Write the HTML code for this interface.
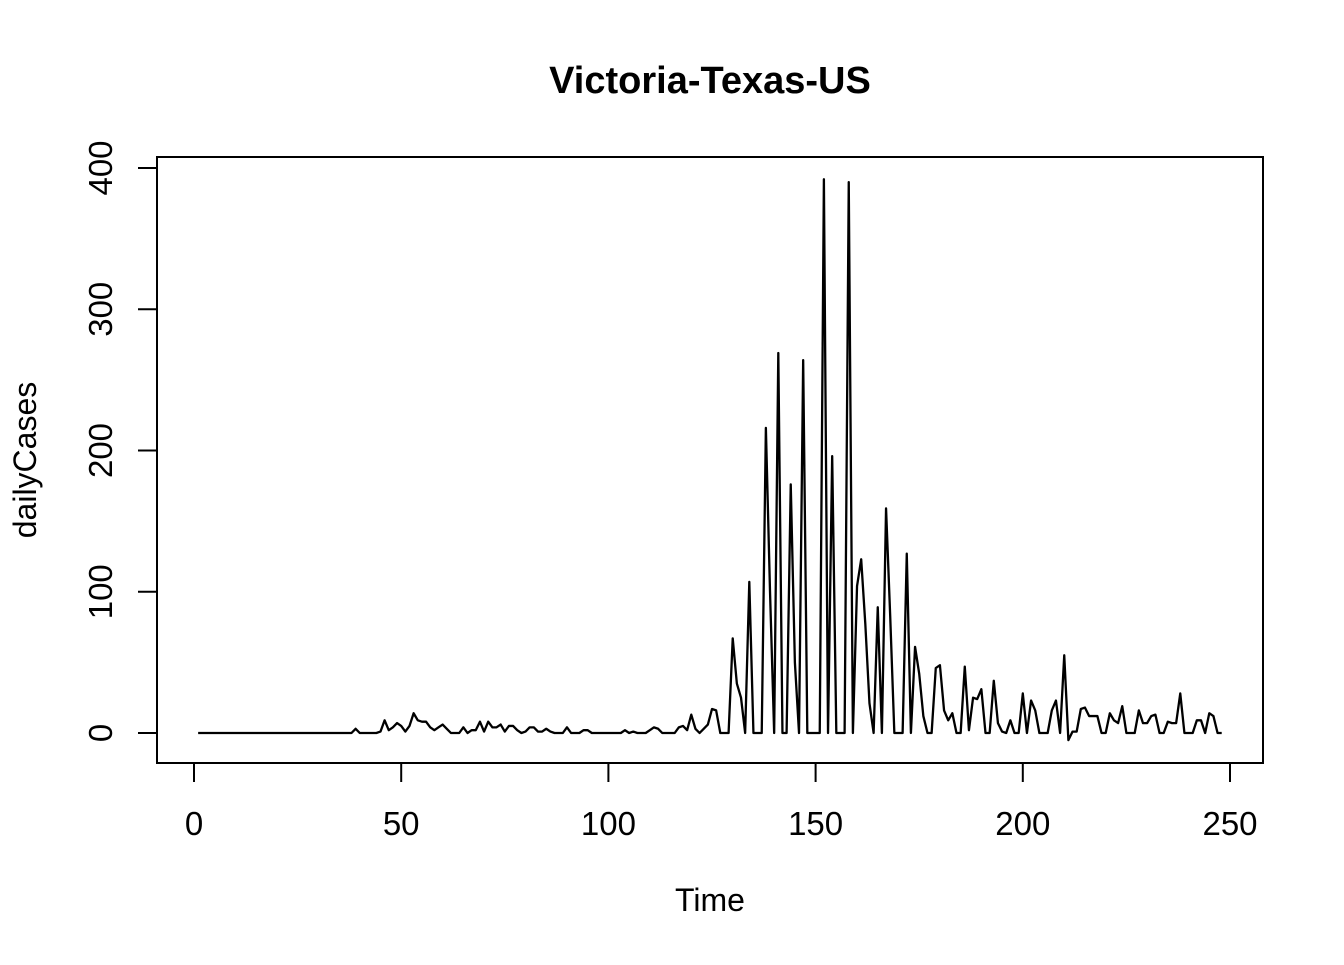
<!DOCTYPE html>
<html><head><meta charset="utf-8"><style>
html,body{margin:0;padding:0;background:#fff;}
svg text{font-family:"Liberation Sans",Arial,sans-serif;fill:#000;}
</style></head><body>
<svg id="chart" width="1344" height="960" viewBox="0 0 1344 960" xmlns="http://www.w3.org/2000/svg">
<rect width="1344" height="960" fill="#fff"/>
<text x="710" y="93" text-anchor="middle" font-size="38" font-weight="bold">Victoria-Texas-US</text>
<rect x="157" y="157" width="1106" height="606" fill="none" stroke="#000" stroke-width="2"/>
<g id="xaxis"></g>
<g id="yaxis"></g>
<text x="710" y="911" text-anchor="middle" font-size="32">Time</text>
<text transform="translate(36,460) rotate(-90)" text-anchor="middle" font-size="32">dailyCases</text>
<g id="series"></g>
</svg>
<script>
const xTicks = [0, 50, 100, 150, 200, 250];
const yTicks = [0, 100, 200, 300, 400];
const zeros = n => Array(n).fill(0);
const dailyCases = [].concat(
  zeros(38),
  [3,0,0,0,0,0,1,9,2,4,7,5,1,5,14,9,8,8,4,2,4,6,3,0,0,0,4,0,2,2,8,1,8,4,4,6,1,5,5,2,0,1,4,4,1,1,3,1,0,0,0,4,0,0,0,2,2,0,0,0,0,0,0,0,0,2,0,1,0,0,0,2,4,3,0,0,0,0,4,5,2,13,3,0,3,6,17,16,0,0,0],
  [67,35,25,0,107,0,0,0,216,100,0,269,0,0,176,50,0,264,0,0,0,0,392,0,196,0,0,0,390,0,104,123,77,21,0,89,0,159,83,0,0,0,127,0,61,42,12,0,0,46,48,16,9,14,0,0,47,2,25,24,31,0,0,37,7,1,0,9,0,0,28,0,23,16,0,0,0,16,23,0,55,-5,1,1,17,18,12,12,12,0,0,14,9,7,19,0,0,0,16,7,7,12,13,0,0,8,7,7,28,0,0,0,9,9,0,14,12,0,0]
);
const X0=194, X1=1230, Y0=733, Y1=168;
const xs = t => X0 + (t-0)*(X1-X0)/250;
const ys = v => Y0 - v*(Y0-Y1)/400;
const NS="http://www.w3.org/2000/svg";
const xa=document.getElementById('xaxis'), ya=document.getElementById('yaxis'), sg=document.getElementById('series');
function mk(tag, attrs, parent){const e=document.createElementNS(NS,tag);for(const k in attrs)e.setAttribute(k,attrs[k]);parent.appendChild(e);return e;}
const xl=mk('line',{x1:xs(xTicks[0]),x2:xs(xTicks[xTicks.length-1]),y1:763,y2:763,stroke:'#000','stroke-width':2},xa);


xTicks.forEach(t=>{
  const l=mk('line',{x1:xs(t),x2:xs(t),y1:763,y2:782,stroke:'#000','stroke-width':2},xa);
  
  
  const tx=mk('text',{x:xs(t),y:835,'text-anchor':'middle','font-size':33},xa);
  tx.textContent=t;
  
  
});
const yl=mk('line',{x1:157,x2:157,y1:ys(yTicks[0]),y2:ys(yTicks[yTicks.length-1]),stroke:'#000','stroke-width':2},ya);


yTicks.forEach(v=>{
  const l=mk('line',{x1:138,x2:157,y1:ys(v),y2:ys(v),stroke:'#000','stroke-width':2},ya);
  
  
  const tx=mk('text',{transform:`translate(112,${ys(v)}) rotate(-90)`,'text-anchor':'middle','font-size':33},ya);
  tx.textContent=v;
  
  
});
const pts=dailyCases.map((v,i)=>xs(i+1).toFixed(2)+','+ys(v).toFixed(2)).join(' ');
const pl=mk('polyline',{points:pts,fill:'none',stroke:'#000','stroke-width':2.3,'stroke-linejoin':'round'},sg);


</script>
</body></html>
